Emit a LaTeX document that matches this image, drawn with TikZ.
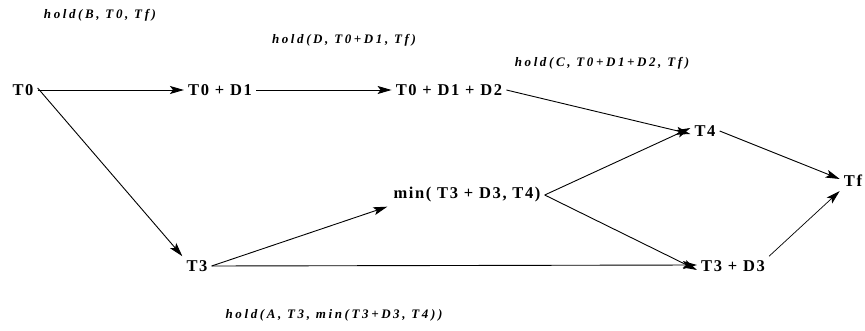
\documentclass[tikz,border=0pt]{standalone}
\usepackage{fontspec}
\setmainfont{Liberation Serif}
\usetikzlibrary{arrows.meta}
\begin{document}
\begin{tikzpicture}[x=1pt,y=-1pt,
  ev/.style={font=\fontsize{16.5}{18}\selectfont\bfseries\addfontfeature{LetterSpace=10}, inner sep=4pt},
  hl/.style={font=\fontsize{13}{14}\selectfont\bfseries\itshape\addfontfeature{LetterSpace=20}, inner sep=1pt},
  arr/.style={line width=0.9pt, -{Stealth[length=14pt,width=8pt,inset=3pt]}}]
\useasboundingbox (0,0) rectangle (865,331);
\node[ev] (t0) at (23,90) {T0};
\node[ev] (t0d1) at (220,90) {T0 + D1};
\node[ev] (t0d1d2) at (449,90) {T0 + D1 + D2};
\node[ev] (t4) at (705,131) {T4};
\node[ev] (tf) at (853,181) {Tf};
\node[ev] (mn) at (467,195) {min( T3 + D3, T4)};
\node[ev] (t3) at (197,266) {T3};
\node[ev] (t3d3) at (733,266) {T3 + D3};
\node[hl] (hb) at (100,15) {hold(B, T0, Tf)};
\node[hl] (hd) at (344,40) {hold(D, T0+D1, Tf)};
\node[hl] (hc) at (602,63) {hold(C, T0+D1+D2, Tf)};
\node[hl] (ha) at (334,315) {hold(A, T3, min(T3+D3, T4))};
\draw[arr] (t0.east) -- (t0d1.west);
\draw[arr] ([yshift=2]t0.east) -- (t3.north west);
\draw[arr] (t0d1.east) -- (t0d1d2.west);
\draw[arr] (t0d1d2.east) -- ([yshift=-3]t4.west);
\draw[arr] (mn.east) -- ([yshift=3]t4.west);
\draw[arr] (mn.east) -- ([yshift=-4]t3d3.west);
\draw[arr] (t3.east) -- ([xshift=-2]mn.south west);
\draw[arr] (t3.east) -- ([yshift=1]t3d3.west);
\draw[arr] (t4.east) -- ([yshift=2]tf.west);
\draw[arr, line width=0.7pt] (t3d3.north east) -- (tf.south west);
\end{tikzpicture}
\end{document}
